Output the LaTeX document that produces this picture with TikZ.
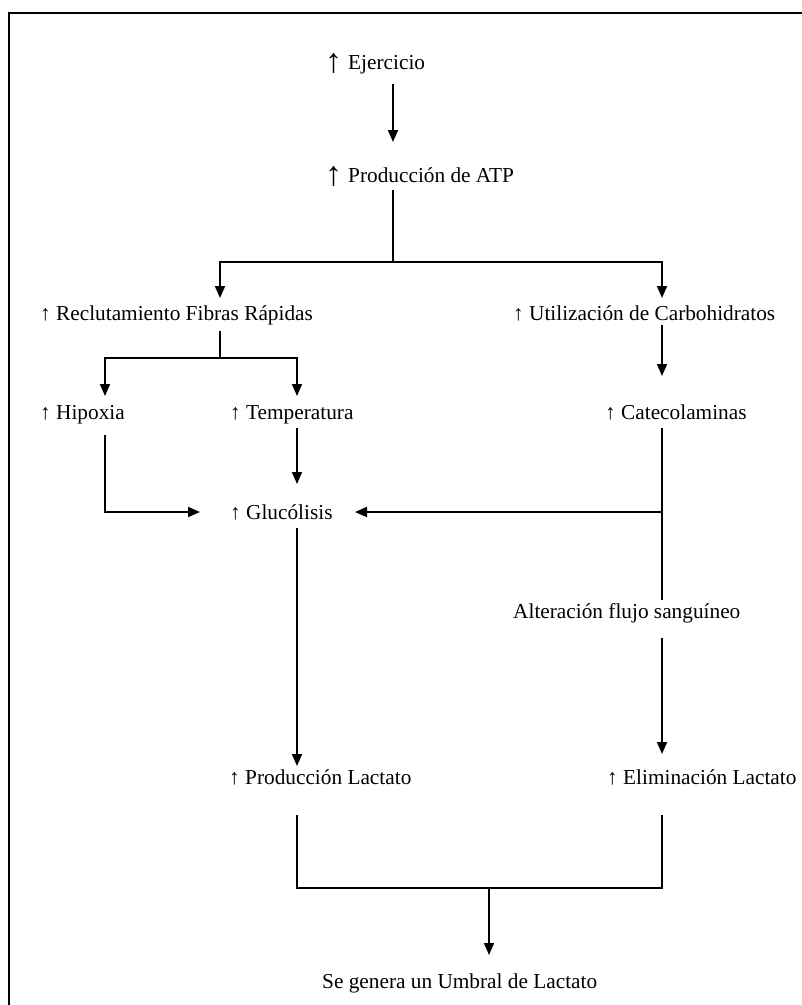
\documentclass[tikz,border=0pt]{standalone}
\usepackage{fontspec}
\setmainfont{Liberation Serif}
\usetikzlibrary{arrows.meta}
\newcommand{\bigup}{\raisebox{-3pt}{\fontsize{34}{34}\selectfont ↑}\hspace{6pt}}
\begin{document}
\begin{tikzpicture}[x=1pt,y=-1pt,
  lbl/.style={anchor=base west, inner sep=0pt, font=\fontsize{21.3}{24}\selectfont},
  conn/.style={line width=1.8pt},
  arr/.style={conn,-{Triangle[length=12pt,width=10pt]}}]
\useasboundingbox (0,0) rectangle (802,1005);
\draw[line width=2.5pt] (9,1005) -- (9,13) -- (802,13);
% nodes
\node[lbl] (ejer) at (325,69) {\bigup Ejercicio};
\node[lbl] (atp) at (325,182) {\bigup Producción de ATP};
\node[lbl] (recl) at (40,320) {↑ Reclutamiento Fibras Rápidas};
\node[lbl] (util) at (513,320) {↑ Utilización de Carbohidratos};
\node[lbl] (hip) at (40,419) {↑ Hipoxia};
\node[lbl] (temp) at (230,419) {↑ Temperatura};
\node[lbl] (cate) at (605,419) {↑ Catecolaminas};
\node[lbl] (gluc) at (230,519) {↑ Glucólisis};
\node[lbl] (alt) at (513,618) {Alteración flujo sanguíneo};
\node[lbl] (prod) at (229,784) {↑ Producción Lactato};
\node[lbl] (elim) at (607,784) {↑ Eliminación Lactato};
\node[lbl] (umb) at (322,988) {Se genera un Umbral de Lactato};
% connector points
\coordinate (e1) at (393,84);   \coordinate (a1) at (393,142);
\coordinate (a2) at (393,190);  \coordinate (j1) at (393,262);
\coordinate (r1) at (220,298);  \coordinate (u1) at (662,298);
\coordinate (r2) at (220,331);  \coordinate (j2) at (220,358);
\coordinate (h1) at (105,396);  \coordinate (t1) at (297,396);
\coordinate (u2) at (662,325);  \coordinate (c1) at (662,376);
\coordinate (h2) at (105,435);  \coordinate (g1) at (200,512);
\coordinate (t2) at (297,428);  \coordinate (g2) at (297,484);
\coordinate (c2) at (662,428);  \coordinate (al1) at (662,600);
\coordinate (jc) at (662,512);  \coordinate (g3) at (355,512);
\coordinate (al2) at (662,638); \coordinate (el1) at (662,754);
\coordinate (g4) at (297,528);  \coordinate (p1) at (297,766);
\coordinate (p2) at (297,815);  \coordinate (el2) at (662,815);
\coordinate (jb) at (489,888);  \coordinate (um1) at (489,955);
% connectors
\draw[arr] (e1) -- (a1);
\draw[conn] (a2) -- (j1);
\draw[arr] (j1) -| (r1);
\draw[arr] (j1) -| (u1);
\draw[conn] (r2) -- (j2);
\draw[arr] (j2) -| (h1);
\draw[arr] (j2) -| (t1);
\draw[arr] (u2) -- (c1);
\draw[arr] (h2) |- (g1);
\draw[arr] (t2) -- (g2);
\draw[conn] (c2) -- (al1);
\draw[arr] (jc) -- (g3);
\draw[arr] (al2) -- (el1);
\draw[arr] (g4) -- (p1);
\draw[conn] (p2) |- (jb);
\draw[conn] (el2) |- (jb);
\draw[arr] (jb) -- (um1);
\end{tikzpicture}
\end{document}
